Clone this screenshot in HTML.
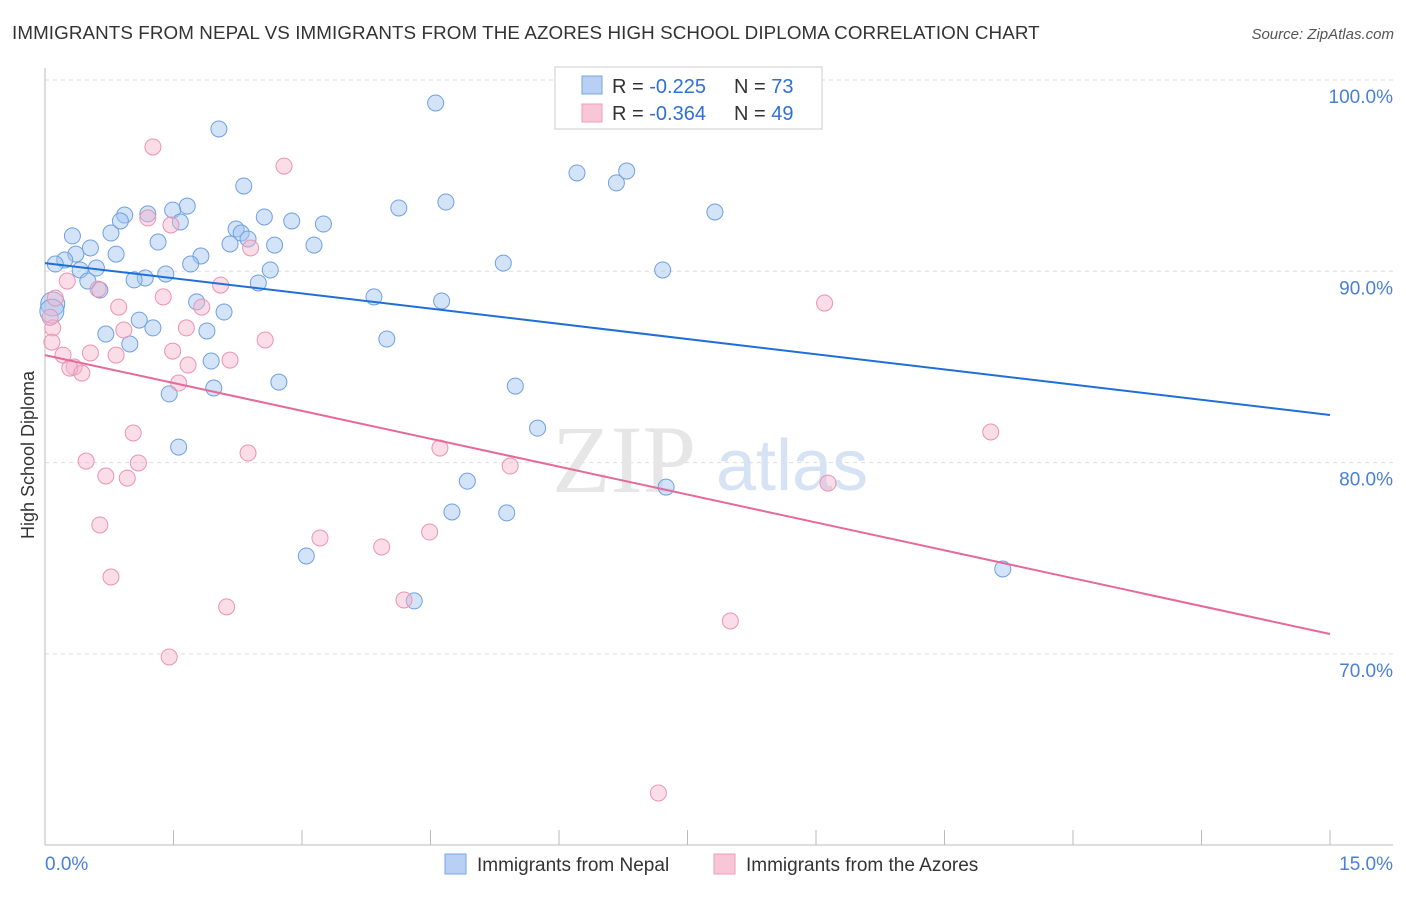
<!DOCTYPE html>
<html><head><meta charset="utf-8"><style>
body{margin:0;background:#fff;font-family:"Liberation Sans",sans-serif}
</style></head><body>
<svg width="1406" height="892" xmlns="http://www.w3.org/2000/svg" style="font-family:'Liberation Sans',sans-serif">
<text x="12" y="39" font-size="18.8" fill="#333" letter-spacing="0.1">IMMIGRANTS FROM NEPAL VS IMMIGRANTS FROM THE AZORES HIGH SCHOOL DIPLOMA CORRELATION CHART</text>
<text x="1394" y="39" font-size="15" fill="#555" font-style="italic" text-anchor="end">Source: ZipAtlas.com</text>
<g id="grid"></g>
<g>
<text x="552" y="492" font-size="96" fill="#e6e6e6" font-family="Liberation Serif">ZIP</text>
<text x="716" y="490" font-size="72" fill="#d5e3f5">atlas</text>
</g>
<text transform="translate(34,455) rotate(-90)" font-size="18" fill="#333" text-anchor="middle">High School Diploma</text>
<g id="marks"></g>
<g>
<rect x="555" y="67" width="267" height="62" fill="#fff" stroke="#ccc"/>
<rect x="582" y="76" width="20" height="18" fill="#b7d0f3" stroke="#7aa6e6"/>
<rect x="582" y="104" width="20" height="18" fill="#f8c6d6" stroke="#ec9db9"/>
<text x="612" y="93" font-size="20" fill="#333">R = <tspan fill="#2f6fd6">-0.225</tspan><tspan x="734">N = </tspan><tspan fill="#2f6fd6">73</tspan></text>
<text x="612" y="120" font-size="20" fill="#333">R = <tspan fill="#2f6fd6">-0.364</tspan><tspan x="734">N = </tspan><tspan fill="#2f6fd6">49</tspan></text>
</g>
<g>
<rect x="445" y="854" width="21" height="20" fill="#b7d0f3" stroke="#7aa6e6"/>
<text x="477" y="871" font-size="19" fill="#333">Immigrants from Nepal</text>
<rect x="714" y="854" width="21" height="20" fill="#f8c6d6" stroke="#ec9db9"/>
<text x="746" y="871" font-size="19" fill="#333">Immigrants from the Azores</text>
</g>
</svg>
<script>
const yTicks=[100,90,80,70];
const yTickLabels=["100.0%","90.0%","80.0%","70.0%"];
const xTickLabels=["0.0%","15.0%"];
const nepalX=[4.56,2.03,2.32,6.21,6.67,6.79,7.82,4.68,4.13,1.66,1.49,0.93,1.20,0.88,1.58,2.56,2.88,3.25,2.23,2.29,2.37,0.77,0.32,1.32,2.16,2.68,3.14,0.53,0.36,0.83,1.82,0.23,0.12,1.70,0.60,0.41,2.63,5.35,7.21,1.41,1.17,1.04,0.50,2.49,0.64,3.84,4.63,1.77,0.09,0.08,2.09,1.10,1.26,1.89,0.71,0.99,3.99,1.94,2.73,1.97,1.45,5.49,5.75,1.56,4.93,7.25,4.75,5.39,3.05,11.18,4.31];
const nepalY=[98.8,97.44,94.46,95.14,94.62,95.24,93.10,93.62,93.31,93.41,93.20,92.94,93.0,92.63,92.58,92.84,92.63,92.47,92.21,92.0,91.69,92.0,91.85,91.53,91.43,91.37,91.37,91.22,90.9,90.9,90.8,90.59,90.38,90.38,90.17,90.07,90.07,90.43,90.07,89.86,89.65,89.55,89.49,89.39,89.02,88.66,88.45,88.4,88.29,87.92,87.87,87.45,87.04,86.88,86.72,86.2,86.46,85.31,84.21,83.9,83.59,84.0,81.8,80.81,79.03,78.72,77.42,77.37,75.12,74.44,72.77];
const azoresX=[1.26,2.79,1.20,1.47,2.40,0.26,0.62,2.05,1.38,0.12,9.10,0.86,1.83,0.09,1.65,0.92,2.57,0.08,1.49,0.53,0.21,0.83,2.16,1.67,0.34,0.29,0.43,1.56,1.03,11.04,4.61,2.37,0.48,1.09,5.43,0.71,0.96,9.14,0.64,3.21,3.93,4.49,0.77,4.19,2.12,8.0,1.45,7.16,0.06];
const azoresY=[96.5,95.5,92.79,92.42,91.22,89.49,89.07,89.28,88.66,88.6,88.34,88.13,88.13,87.04,87.04,86.93,86.41,86.3,85.83,85.73,85.62,85.62,85.36,85.1,85.0,84.94,84.68,84.16,81.55,81.6,80.76,80.5,80.08,79.98,79.82,79.3,79.19,78.93,76.74,76.06,75.59,76.37,74.02,72.82,72.46,71.72,69.84,62.73,87.6];
const nepalTrend=[90.43,82.49];
const azoresTrend=[85.62,71.04];
const sx=v=>45+v/15*1285;
const sy=v=>80+(100-v)*19.13;
const NS="http://www.w3.org/2000/svg";
function mk(t,a,p){const e=document.createElementNS(NS,t);for(const k in a)e.setAttribute(k,a[k]);p.appendChild(e);return e;}
const grid=document.getElementById('grid');
yTicks.forEach((t,i)=>{
 const l=mk('line',{x1:45,x2:1393,y1:sy(t),y2:sy(t),stroke:'#ddd','stroke-dasharray':'4,4'},grid);
 
 
 const tx=mk('text',{x:1393,y:sy(t)+23,'font-size':19,fill:'#4a7fd8','text-anchor':'end'},grid);
 tx.textContent=yTickLabels[i];
 
 
});
const ax=mk('line',{x1:45,x2:45,y1:68,y2:845,stroke:'#bbb'},grid);


const bx=mk('line',{x1:45,x2:1393,y1:845,y2:845,stroke:'#bbb'},grid);


for(let i=0;i<=10;i++){const x=sx(i*1.5);const t=mk('line',{x1:x,x2:x,y1:830,y2:845,stroke:'#bbb'},grid);
 
 }
const x0=mk('text',{x:45,y:870,'font-size':19,fill:'#4a7fd8'},grid);x0.textContent=xTickLabels[0];


const x1=mk('text',{x:1393,y:870,'font-size':19,fill:'#4a7fd8','text-anchor':'end'},grid);x1.textContent=xTickLabels[1];


const g=document.getElementById('marks');
nepalX.forEach((v,i)=>{const big=i==48||i==49;const c=mk('circle',{cx:sx(v),cy:sy(nepalY[i]),r:big?12:8,fill:'rgba(160,195,240,0.45)',stroke:'#6f9fe2','stroke-width':1},g);
 
 });
azoresX.forEach((v,i)=>{const c=mk('circle',{cx:sx(v),cy:sy(azoresY[i]),r:8,fill:'rgba(245,180,202,0.45)',stroke:'#eb93b3','stroke-width':1},g);
 
 });
const l1=mk('line',{x1:sx(0),y1:sy(nepalTrend[0]),x2:sx(15),y2:sy(nepalTrend[1]),stroke:'#1f6fd6','stroke-width':2},g);


const l2=mk('line',{x1:sx(0),y1:sy(azoresTrend[0]),x2:sx(15),y2:sy(azoresTrend[1]),stroke:'#e5699a','stroke-width':2},g);


</script>
</body></html>
